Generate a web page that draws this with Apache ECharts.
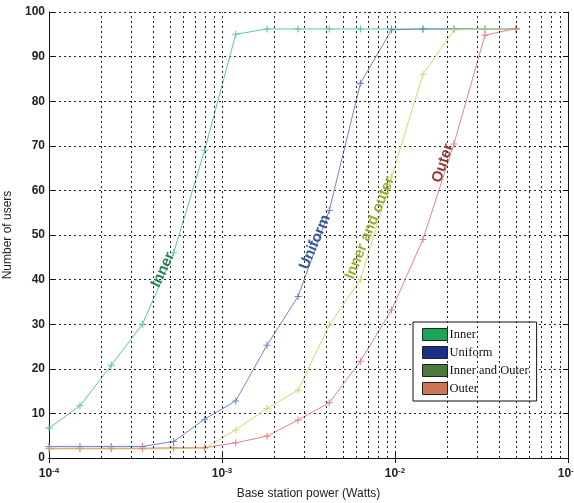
<!DOCTYPE html>
<html>
<head>
<meta charset="utf-8">
<script src="https://cdn.jsdelivr.net/npm/echarts@6/dist/echarts.min.js"></script>
<style>
  html, body { margin: 0; padding: 0; background: #fff; }
  #chart { width: 574px; height: 503px; }
</style>
</head>
<body>
<div id="chart"></div>
<script>
// base station power (W), one sample per step
var power = [1.0e-4, 1.51e-4, 2.29e-4, 3.47e-4, 5.25e-4, 7.94e-4, 1.20e-3, 1.82e-3,
             2.75e-3, 4.17e-3, 6.31e-3, 9.55e-3, 1.45e-2, 2.19e-2, 3.31e-2, 5.01e-2];

var inner      = [6.7, 11.7, 20.8, 30, 46, 69, 95, 96.2, 96.2, 96.2, 96.2, 96.2, 96.2, 96.2, 96.2, 96.2];
var uniform    = [2.6, 2.6, 2.6, 2.6, 3.7, 8.7, 12.8, 25.3, 36.2, 55.5, 84, 96, 96.2, 96.2, 96.2, 96.2];
var innerOuter = [2.0, 2.0, 2.0, 2.0, 2.1, 2.2, 6.3, 11.1, 15.2, 29.8, 40, 63, 86, 96, 96.2, 96.2];
var outer      = [2.2, 2.2, 2.2, 2.2, 2.3, 2.3, 3.4, 4.9, 8.5, 12.4, 21.7, 33.2, 49, 70.4, 94.8, 96.3];

var seriesNames = ['Inner', 'Uniform', 'Inner and Outer', 'Outer'];
var lineColors = ['#5ccc8e', '#6f86c9', '#cbdc74', '#e38585'];
var legendColors = ['#19a55a', '#1b2f86', '#4d7a3c', '#cf7455'];

// matlab style log grid, every 1..9 of each decade
var gridX = [2e-4, 3e-4, 4e-4, 5e-4, 6e-4, 7e-4, 8e-4, 9e-4, 1e-3,
             2e-3, 3e-3, 4e-3, 5e-3, 6e-3, 7e-3, 8e-3, 9e-3, 1e-2,
             2e-2, 3e-2, 4e-2, 5e-2, 6e-2, 7e-2, 8e-2, 9e-2];

function pairs(ys) {
  return ys.map(function (y, i) { return [power[i], y]; });
}

var plus = 'path://M4,0h1.4v4h4v1.4h-4v4h-1.4v-4h-4v-1.4h4z';

function tag(text, coord, rot, color) {
  return {
    symbol: 'circle', symbolSize: 1,
    itemStyle: { color: 'rgba(0,0,0,0)' },
    data: [{ coord: coord }],
    label: {
      show: true, position: 'inside', formatter: text, rotate: rot,
      color: color, fontSize: 15, fontWeight: 'bold', fontFamily: 'Liberation Sans'
    }
  };
}

var chart = echarts.init(document.getElementById('chart'));

var sup = function (v) {
  var e = Math.round(Math.log10(v));
  return '{b|10}{s|' + e + '}';
};

var xBase = {
  type: 'log', logBase: 10, min: 1e-4, max: 1e-1,
  axisLine: { show: true, lineStyle: { color: '#111', width: 1 } },
  axisTick: { show: true, inside: true, length: 5, lineStyle: { color: '#111' } },
  splitLine: { show: false }
};

chart.setOption({
  backgroundColor: '#fff',
  animation: false,
  grid: { left: 49, right: 6, top: 12, bottom: 45, outerBoundsMode: 'none', containLabel: false },
  legend: {
    orient: 'vertical', left: 413, top: 322,
    padding: [6, 8, 6, 9], itemGap: 5,
    itemWidth: 25, itemHeight: 12, icon: 'rect',
    borderColor: '#111', borderWidth: 1, backgroundColor: '#fff',
    textStyle: { fontFamily: 'Liberation Serif', fontSize: 12.5, color: '#111', padding: [0, 0, 0, -3] },
    data: seriesNames.map(function (n, i) {
      return { name: n, itemStyle: { color: legendColors[i], borderColor: '#222', borderWidth: 1 } };
    })
  },
  xAxis: [
    Object.assign({}, xBase, {
      position: 'bottom',
      name: 'Base station power (Watts)', nameLocation: 'middle', nameGap: 30,
      nameTextStyle: { fontFamily: 'Liberation Sans', fontSize: 12, color: '#222' },
      axisLabel: {
        margin: 9, formatter: sup,
        rich: {
          b: { fontFamily: 'Liberation Sans', fontSize: 12, fontWeight: 'bold', color: '#222' },
          s: { fontFamily: 'Liberation Sans', fontSize: 8, fontWeight: 'bold', color: '#222', verticalAlign: 'top', padding: [0, 0, 6, 0] }
        }
      }
    }),
    Object.assign({}, xBase, { position: 'top', axisLabel: { show: false } })
  ],
  yAxis: [
    {
      type: 'value', min: 0, max: 100, interval: 10, position: 'left',
      name: 'Number of users', nameLocation: 'middle', nameGap: 31,
      nameTextStyle: { fontFamily: 'Liberation Sans', fontSize: 12, color: '#222' },
      axisLine: { show: true, lineStyle: { color: '#111' } },
      axisTick: { show: true, inside: true, length: 5, lineStyle: { color: '#111' } },
      axisLabel: { margin: 4, fontFamily: 'Liberation Sans', fontSize: 12, fontWeight: 'bold', color: '#222' },
      splitLine: { show: true, lineStyle: { color: '#222', type: [2, 3], width: 1 } }
    },
    {
      type: 'value', min: 0, max: 100, interval: 10, position: 'right',
      axisLine: { show: true, lineStyle: { color: '#111' } },
      axisTick: { show: true, inside: true, length: 5, lineStyle: { color: '#111' } },
      axisLabel: { show: false },
      splitLine: { show: false }
    }
  ],
  series: [
    {
      name: '', type: 'line', data: [], silent: true,
      markLine: {
        silent: true, symbol: 'none', label: { show: false }, precision: 12,
        lineStyle: { color: '#222', type: [2, 3], width: 1 },
        data: gridX.map(function (v) { return [{ coord: [v, 0] }, { coord: [v, 100] }]; })
      }
    },
    {
      name: 'Inner', type: 'line', data: pairs(inner),
      symbol: plus, symbolSize: 7, color: lineColors[0], lineStyle: { width: 1 },
      markPoint: tag('Inner', [4.56e-4, 42.2], 65, '#2b7f52')
    },
    {
      name: 'Uniform', type: 'line', data: pairs(uniform),
      symbol: plus, symbolSize: 7, color: lineColors[1], lineStyle: { width: 1 },
      markPoint: tag('Uniform', [3.45e-3, 48.4], 67, '#3b5898')
    },
    {
      name: 'Inner and Outer', type: 'line', data: pairs(innerOuter),
      symbol: plus, symbolSize: 7, color: lineColors[2], lineStyle: { width: 1 },
      markPoint: tag('Inner and outer', [7.16e-3, 51.6], 68, '#9cad34')
    },
    {
      name: 'Outer', type: 'line', data: pairs(outer),
      symbol: plus, symbolSize: 7, color: lineColors[3], lineStyle: { width: 1 },
      markPoint: tag('Outer', [1.89e-2, 66.1], 72, '#8e3b3b')
    }
  ]
});
</script>
</body>
</html>
